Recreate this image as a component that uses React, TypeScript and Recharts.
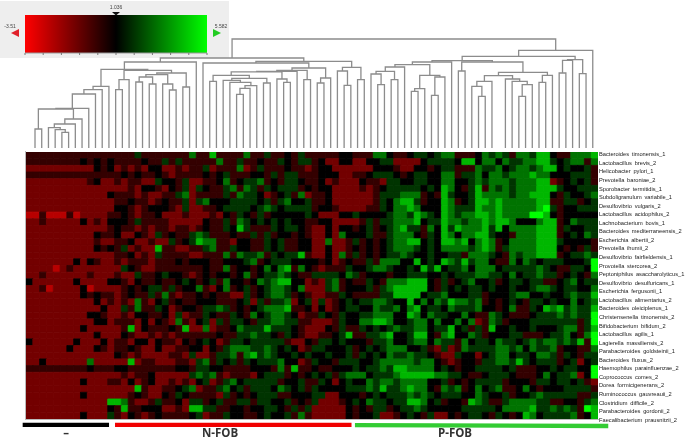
import { BarChart, Bar, Cell, XAxis, YAxis, LineChart, Line, ComposedChart } from "recharts";

// colour scale
const SCALE_MIN = -3.51;
const SCALE_MID = 1.036;
const SCALE_MAX = 5.582;
const scaleTicks = [-3.51, -2.601, -1.692, -0.782, 0.127, 1.036, 1.945, 2.855, 3.764, 4.673, 5.582];

// each digit is one heatmap cell: 0 = full red, 4 = black, 8 = full green
const heatRows = [
  "333333333333 333353333333 633733336335 334353333344 333664334554 566333465653 665774336667",
  "333333334343 433334335353 333363353343 354355342244 224455222245 555477466465 566775456636",
  "222222222243 423232442232 335233362353 334332344222 222444322443 455333655645 665677454453",
  "333333333333 334343343233 334345333443 535533344422 334555434554 466355646656 667664445553",
  "222222222342 232332254435 223346345563 435543342322 243325544554 466445656665 666772345453",
  "222222222222 222324432435 254335636535 455534344222 232345555545 476435736565 666777544555",
  "222222222222 433323223356 233335365542 345362334222 222355566634 375445766665 667774354456",
  "222222222222 233433234335 256444555545 356445334222 222354677534 476345776766 666773355345",
  "222222222222 244323444325 223345555456 545555344322 223354667644 476555766766 666785344555",
  "113111312222 334323342223 222324354353 444445422244 544445665765 476566776766 668874344444",
  "223222224232 444353333222 224335365454 545443344222 235355666745 576656676776 444677346555",
  "222222222222 343323233233 234335475333 545543224244 345345675536 475766675746 666777354455",
  "222222222243 342243253433 565333433535 344343224264 445335666435 476466775443 666777345465",
  "222222222232 233422322534 576633244335 453344226223 534345667745 477674676346 666777544443",
  "222222222243 435232273322 335633544335 453344224223 434345666545 466665676356 666777434353",
  "222222222222 233423253333 223336365563 545573224263 534345565445 445536665436 566777345565",
  "222222242432 232333233343 444334445634 555444434234 335366644745 476575664336 465455544458",
  "222212322222 225432233333 334336344346 467364323335 445665445475 745564666455 555654335548",
  "223222222322 232253345443 234344346345 565433555546 534443445554 454555665546 455655345436",
  "422222242222 443243343345 434536443465 677442325634 335436667774 353456445345 545533456455",
  "223122224122 223434553534 463246345345 665462225634 445356777774 354545545445 445665455446",
  "222222224343 323433536323 343433225345 665343223354 333355777745 564445534445 664454456557",
  "222222222242 323263245343 344433345253 556245252345 455665447464 657665634345 435545446456",
  "222222222224 225363354234 435565343456 667334242345 544655646745 546555644346 335476756557",
  "222222222443 223244334252 335433543645 665423354354 455666447646 554464336543 334555656558",
  "222222222244 233324243263 245253554355 665533222354 466776445664 644646236534 445555555358",
  "222222224222 223724333437 226233465557 555432224353 354545655664 557453537445 445444566357",
  "222222222242 224322323233 333343355655 435432233457 335567445774 367446534445 533345564368",
  "422222242224 233244243324 345423554555 553224355454 443556445664 655364554655 456566565738",
  "222222422243 233432242233 442435666556 545423554445 345456664453 252365555665 646556344336",
  "222222222222 243232222332 522355636756 544545445445 354546556554 322544245664 554665354355",
  "224222222622 222723322233 256354535455 564423544355 544566666566 432344355665 754555345245",
  "333333333433 344333333344 355443333444 363733433444 545565776666 454344555545 333445455448",
  "222222222222 223233422222 565632333245 553434545356 664555677777 665543345554 333464556248",
  "222222224222 332423422323 245235645555 534453354245 446566566664 453434555534 443554554532",
  "222222222222 222273223345 623356453555 465453544445 556575567664 365634645633 464344455553",
  "222222224222 222343224354 333325343455 533444552244 434545556565 455544654453 445655555335",
  "222222222222 776322353342 553453355355 445343522234 546554557764 534437653356 666553344356",
  "222222222222 437334442232 775533443445 543535222224 343553455654 444455555466 667556565387",
  "222222224222 532432343333 452335443345 445363222224 344522345435 224345543543 476455556347",
];

const taxa = [
  "Bacteroides timonensis_1", "Lactobacillus brevis_2", "Helicobacter pylori_1", "Prevotella baroniae_2",
  "Sporobacter termitidis_1", "Subdoligranulum variabile_1", "Desulfovibrio vulgaris_2", "Lactobacillus acidophilus_2",
  "Lachnobacterium bovis_1", "Bacteroides mediterraneensis_2", "Escherichia albertii_2", "Prevotella ihumii_2",
  "Desulfovibrio fairfieldensis_1", "Provotella stercorea_2", "Peptoniphilus asaccharolyticus_1", "Desulfovibrio desulfuricans_1",
  "Escherichia fergusonii_1", "Lactobacillus alimentarius_2", "Bacteroides oleiciplenus_1", "Christensenella timonensis_2",
  "Bifidobacterium bifidum_2", "Lactobacillus agilis_1", "Lagierella massiliensis_2", "Parabacteroides goldsteinii_1",
  "Bacteroides fluxus_2", "Haemophilus parainfluenzae_2", "Coprococcus comes_2", "Dorea formicigenerans_2",
  "Ruminococcus gauvreauii_2", "Clostridium difficile_2", "Parabacteroides gordonii_2", "Faecalibacterium prausnitzii_2",
];

// groups under the heatmap, in column units
const groupNames = ["–", "N-FOB", "P-FOB"];
const groupStart = [-0.49, 13.07, 48.3];
const groupEnd = [12.19, 47.8, 85.5];
const groupCentre = [5.9, 28.5, 63];
const groupColor = ["#000000", "#f00000", "#33cc33"];
const groupLevelStart = [4.9, 4.9, 5.2];
const groupLevelEnd = [4.9, 4.9, 6];

// dendrogram: leaf index, or [left, right, height above the leaves]
type Node = number | [Node, Node, number];

const leftBase: Node = [[0, 1, 19], [[[2, [3, [4, 5, 15.7], 18.3], 20.3], 6, 24], 7, 29], 39];
const leftA: Node = [[[[leftBase, 8, 39.7], 9, 54], 10, 58.3], 11, 61.7];
const leftB: Node = [
  [[12, 13, 58.3], 14, 68.3],
  [[[[15, 16, 66], [17, 18, 64], 71], [19, [20, 21, 58], 64], 73.3], [22, 23, 61], 75],
  77.7,
];
const leftCluster: Node = [[leftA, leftB, 78.7], 24, 86];

const rightA: Node = [
  [26, 27, 66.7],
  [[28, [[[[30, 31, 53.7], 32, 59.7], 33, 62.3], 29, 65.7], 67.7], [34, 35, 65], 69.7],
  72.7,
];
const rightB: Node = [
  [[[rightA, [36, [37, 38, 65.7], 69], 76.2], 39, 76.7], [40, 41, 68.3], 77.7],
  [[42, 43, 65], 44, 70],
  80,
];
const rightC: Node = [[45, [46, 47, 62.7], 77], [48, 49, 68.3], 80.7];
const rightCluster: Node = [[25, rightB, 85], rightC, 86.7];

const midA: Node = [[[50, [51, 52, 63.3], 74], [53, 54, 68.3], 76.7], 55, 81];
const midB: Node = [[[56, 57, 56.7], 58, 59.3], [[59, 60, 52.7], 61, 71], 72.7];
const midC: Node = [[[65, [66, 67, 51.7], 61.7], 68, 66.7], [70, [71, [[72, 73, 51.7], 74, 63.3], 66.7], 69], 72.3];
const midD: Node = [midC, [[75, 76, 65.7], 77, 72.7], 75.7];
const middleCluster: Node = [[[midA, midB, 83.3], 62, 86], [[63, 64, 77], midD, 86], 87.3];

const rightEnd: Node = [[[78, 79, 75], 80, 87.7], [81, 82, 74.3], 88.3];

const dendroRoot: Node = [
  [leftCluster, rightCluster, 90],
  [[middleCluster, rightEnd, 91.7], 83, 97.7],
  109,
];

type Pt = { x: number; h: number };

function collectLinks(node: Node, links: Pt[][]): Pt {
  if (typeof node === "number") return { x: node, h: 0 };
  const [l, r, h] = node;
  const a = collectLinks(l, links);
  const b = collectLinks(r, links);
  links.push([{ x: a.x, h: a.h }, { x: a.x, h }, { x: b.x, h }, { x: b.x, h: b.h }]);
  return { x: (a.x + b.x) / 2, h };
}

function heatColor(v: number) {
  const t = v < SCALE_MID ? (SCALE_MID - v) / (SCALE_MID - SCALE_MIN) : (v - SCALE_MID) / (SCALE_MAX - SCALE_MID);
  const level = Math.round(255 * Math.pow(t, 1.15));
  return v < SCALE_MID ? `rgb(${level},0,0)` : `rgb(0,${level},0)`;
}

const cells = heatRows.map((row) =>
  row
    .replace(/ /g, "")
    .split("")
    .map((d) => SCALE_MIN + (Number(d) * (SCALE_MAX - SCALE_MIN)) / 8)
);

const columnData = cells[0].map((_, c) => {
  const rec: Record<string, number> = { col: c };
  cells.forEach((_r, r) => {
    rec[`r${r}`] = 1;
  });
  return rec;
});

function Heatmap() {
  return (
    <BarChart width={572} height={267} data={columnData} margin={{ top: 0, right: 0, bottom: 0, left: 0 }} barCategoryGap={0}>
      <XAxis dataKey="col" hide />
      <YAxis type="number" domain={[0, cells.length]} reversed hide />
      {cells.map((row, r) => (
        <Bar key={r} dataKey={`r${r}`} stackId="h" isAnimationActive={false}>
          {row.map((v, c) => (
            <Cell key={c} fill={heatColor(v)} stroke={heatColor(v)} strokeWidth={0.8} />
          ))}
        </Bar>
      ))}
    </BarChart>
  );
}

function Dendrogram() {
  const links: Pt[][] = [];
  collectLinks(dendroRoot, links);
  return (
    <LineChart width={572} height={112} margin={{ top: 0, right: 0, bottom: 0, left: 0 }}>
      <XAxis type="number" dataKey="x" domain={[-1.34, 83.78]} hide />
      <YAxis type="number" domain={[0, 112]} hide />
      {links.map((pts, i) => (
        <Line key={i} data={pts} dataKey="h" stroke="#8c8c8c" strokeWidth={1.3} dot={false} isAnimationActive={false} />
      ))}
    </LineChart>
  );
}

const labelData = taxa.map((name) => ({ name, v: 0 }));

function TaxaTick({ x, y, payload }: any) {
  return (
    <text x={x} y={y} dy={2} fontSize={5.7} fill="#1a1a1a" fontFamily="Liberation Sans" textAnchor="start" wordSpacing="1.2px">
      {payload.value}
    </text>
  );
}

function TaxaLabels() {
  return (
    <BarChart layout="vertical" width={91} height={274} data={labelData} margin={{ top: 0, right: 0, bottom: 0, left: 0 }}>
      <XAxis type="number" hide domain={[0, 1]} />
      <YAxis
        type="category"
        dataKey="name"
        orientation="right"
        width={88}
        interval={0}
        tickLine={false}
        axisLine={false}
        tickSize={0}
        tickMargin={2}
        tick={<TaxaTick />}
      />
      <Bar dataKey="v" isAnimationActive={false} />
    </BarChart>
  );
}

const groupData = groupCentre.map((c, i) => ({ c, name: groupNames[i] }));

function Groups() {
  return (
    <ComposedChart width={685} height={20} data={groupData} margin={{ top: 0, right: 0, bottom: 0, left: 0 }}>
      <XAxis
        type="number"
        dataKey="c"
        domain={[-3.82, 96.77]}
        ticks={groupCentre}
        tickFormatter={(v: number) => groupNames[groupCentre.indexOf(v)]}
        tickLine={false}
        axisLine={false}
        tickSize={0}
        tickMargin={0}
        height={11}
        interval={0}
        tick={{ fontSize: 11.5, fontWeight: 700, fill: "#333", fontFamily: "Open Sans" }}
      />
      <YAxis type="number" domain={[0, 9]} reversed hide />
      {groupNames.map((g, i) => (
        <Line
          key={g}
          data={[
            { c: groupStart[i], level: groupLevelStart[i] },
            { c: groupEnd[i], level: groupLevelEnd[i] },
          ]}
          dataKey="level"
          stroke={groupColor[i]}
          strokeWidth={4.3}
          dot={false}
          isAnimationActive={false}
        />
      ))}
    </ComposedChart>
  );
}

const legendData = [{ name: "scale", range: [SCALE_MIN, SCALE_MAX] }];

function ColorLegend() {
  return (
    <div style={{ position: "absolute", left: 0, top: 1, width: 229, height: 57, background: "#eeeeee" }}>
      <BarChart
        layout="vertical"
        width={229}
        height={57}
        data={legendData}
        margin={{ top: 14, right: 22, bottom: 0, left: 25 }}
        barCategoryGap={0}
      >
        <defs>
          <linearGradient id="scaleFill" x1="0" y1="0" x2="1" y2="0">
            <stop offset="0%" stopColor="#ff0000" />
            <stop offset="50%" stopColor="#000000" />
            <stop offset="100%" stopColor="#00ff00" />
          </linearGradient>
        </defs>
        <XAxis
          type="number"
          domain={[SCALE_MIN, SCALE_MAX]}
          ticks={scaleTicks}
          interval={0}
          height={5}
          tickSize={2}
          tickLine={{ stroke: "#777" }}
          axisLine={{ stroke: "#999" }}
          tickFormatter={() => ""}
        />
        <YAxis type="category" dataKey="name" hide />
        <Bar dataKey="range" fill="url(#scaleFill)" isAnimationActive={false} />
      </BarChart>
      <svg width={229} height={57} style={{ position: "absolute", left: 0, top: 0 }}>
        <g fontFamily="Liberation Sans" fontSize={5} fill="#444" textAnchor="middle">
          <text x={116} y={8}>{SCALE_MID.toFixed(3)}</text>
          <text x={10} y={27}>{SCALE_MIN}</text>
          <text x={221} y={27}>{SCALE_MAX}</text>
        </g>
        <polygon points="112,11 120,11 116,14.5" fill="#111" />
        <polygon points="19,28 19,36 11,32" fill="#e0202a" />
        <polygon points="213,28 213,36 221,32" fill="#22cc22" />
      </svg>
    </div>
  );
}

export default function App() {
  return (
    <div
      style={{
        position: "absolute",
        left: 0,
        top: 0,
        width: 685,
        height: 440,
        overflow: "hidden",
        background: "#fff",
        filter: "blur(0.45px)",
      }}
    >
      <ColorLegend />
      <div style={{ position: "absolute", left: 26, top: 36 }}>
        <Dendrogram />
      </div>
      <div style={{ position: "absolute", left: 26, top: 152 }}>
        <Heatmap />
      </div>
      <div style={{ position: "absolute", left: 25, top: 151, width: 573, height: 268, borderLeft: "1px solid #bbb", borderBottom: "1px solid #bbb" }} />
      <div style={{ position: "absolute", left: 594, top: 150 }}>
        <TaxaLabels />
      </div>
      <div style={{ position: "absolute", left: 0, top: 420 }}>
        <Groups />
      </div>
    </div>
  );
}
